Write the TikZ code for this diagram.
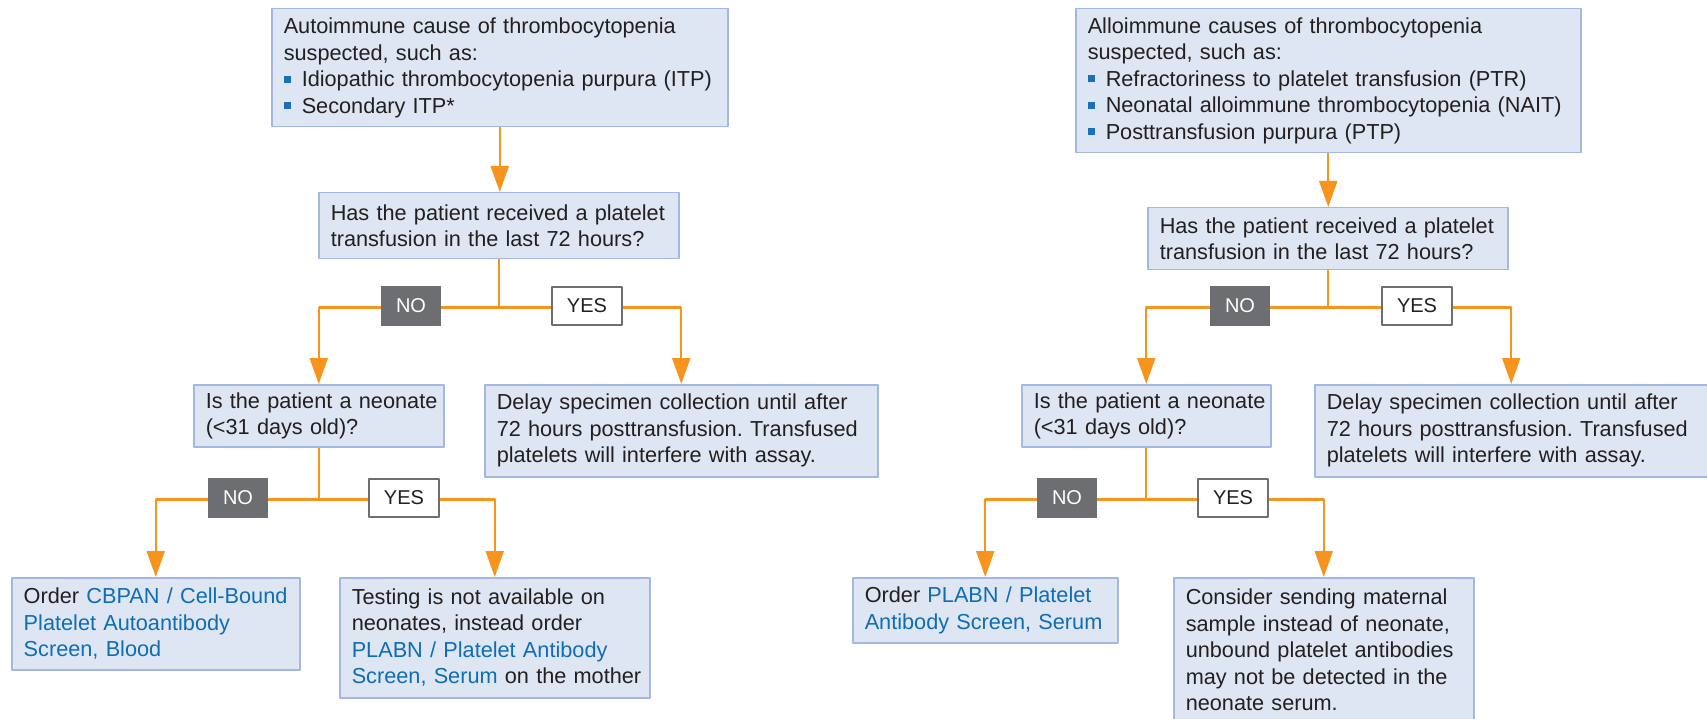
\documentclass[tikz,border=0pt]{standalone}
\usepackage{fontspec}
\setmainfont{Liberation Sans}
\usetikzlibrary{arrows.meta}
\definecolor{boxfill}{HTML}{DFE6F3}
\definecolor{boxline}{HTML}{A2B8E0}
\definecolor{flow}{HTML}{F7941D}
\definecolor{nogray}{HTML}{6D6E71}
\definecolor{linkblue}{HTML}{0F6DB5}
\definecolor{bulblue}{HTML}{1B6FB7}
\definecolor{ink}{HTML}{231F20}
\newcommand{\bul}{{\color{bulblue}\rule[4pt]{7pt}{7pt}}\hspace{11pt}}
\newcommand{\lnk}[1]{\textcolor{linkblue}{#1}}
\frenchspacing

\begin{document}
\begin{tikzpicture}[x=1pt,y=-1pt,line join=round,
  every node/.style={font=\fontsize{21.7}{26.5}\selectfont,text=ink},
  infobox/.style={draw=boxline,fill=boxfill,line width=1.5pt,anchor=north west,inner xsep=0pt,inner ysep=0pt,align=left,
    execute at begin node={\leftskip=12pt\hyphenpenalty=10000\exhyphenpenalty=10000}},
  wire/.style={draw=flow,line width=2.2pt},
  arr/.style={wire,-{Triangle[length=26pt,width=18pt]}},
  nolab/.style={fill=nogray,text=white,minimum width=60pt,minimum height=40pt,inner sep=0pt,font=\fontsize{20}{24}\selectfont},
  yeslab/.style={fill=white,draw=nogray,line width=2pt,minimum width=70pt,minimum height=38pt,inner sep=0pt,font=\fontsize{20}{24}\selectfont}]
\useasboundingbox (0,0) rectangle (1707,719);

% autoimmune side
\node[infobox,text width=456pt,minimum height=118pt] (autoA) at (271,8) {Autoimmune cause of thrombocytopenia\\suspected, such as:\\\bul Idiopathic thrombocytopenia purpura (ITP)\\\bul Secondary ITP*};
\node[infobox,text width=360pt,minimum height=66pt] (qA1) at (318,192) {Has the patient received a platelet\\transfusion in the last 72 hours?};
\node[infobox,text width=250pt,minimum height=62pt] (qA2) at (193,384) {Is the patient a neonate\\(<31 days old)?};
\node[infobox,text width=393pt,minimum height=92pt] (delayA) at (484,384) {Delay specimen collection until after\\72 hours posttransfusion. Transfused\\platelets will interfere with assay.};
\node[infobox,text width=288pt,minimum height=92pt] (orderA) at (11,577) {Order \lnk{CBPAN / Cell-Bound}\\\lnk{Platelet Autoantibody}\\\lnk{Screen, Blood}};
\node[infobox,text width=310pt,minimum height=120pt] (testA) at (339,577) {Testing is not available on\\neonates, instead order\\\lnk{PLABN / Platelet Antibody}\\\lnk{Screen, Serum} on the mother};

% alloimmune side
\node[infobox,text width=505pt,minimum height=144pt] (autoB) at (1075,8) {Alloimmune causes of thrombocytopenia\\suspected, such as:\\\bul Refractoriness to platelet transfusion (PTR)\\\bul Neonatal alloimmune thrombocytopenia (NAIT)\\\bul Posttransfusion purpura (PTP)};
\node[infobox,text width=360pt,minimum height=62pt] (qB1) at (1147,207) {Has the patient received a platelet\\transfusion in the last 72 hours?};
\node[infobox,text width=249pt,minimum height=62pt] (qB2) at (1021,384) {Is the patient a neonate\\(<31 days old)?};
\node[infobox,text width=393pt,minimum height=92pt] (delayB) at (1314,384) {Delay specimen collection until after\\72 hours posttransfusion. Transfused\\platelets will interfere with assay.};
\node[infobox,text width=265pt,minimum height=65pt] (orderB) at (852,577) {Order \lnk{PLABN / Platelet}\\\lnk{Antibody Screen, Serum}};
\node[infobox,text width=300pt,minimum height=144pt] (considerB) at (1173,577) {Consider sending maternal\\sample instead of neonate,\\unbound platelet antibodies\\may not be detected in the\\neonate serum.};

% branch points
\coordinate (jA1) at ([yshift=-48pt]qA1.south);
\coordinate (jA2) at ([yshift=-52pt]qA2.south);
\coordinate (jB1) at ([yshift=-37pt]qB1.south);
\coordinate (jB2) at ([yshift=-52pt]qB2.south);

\draw[arr] (autoA.south) -- (autoA.south |- qA1.north);
\draw[wire] (qA1.south) -- (jA1);
\draw[arr] (jA1) -| (qA2.north);
\draw[arr] (jA1) -| (delayA.north);
\draw[wire] (qA2.south) -- (jA2);
\draw[arr] (jA2) -| (orderA.north);
\draw[arr] (jA2) -| (testA.north);

\draw[arr] (autoB.south) -- (autoB.south |- qB1.north);
\draw[wire] (qB1.south) -- (jB1);
\draw[arr] (jB1) -| (qB2.north);
\draw[arr] (jB1) -| (delayB.north);
\draw[wire] (qB2.south) -- (jB2);
\draw[arr] (jB2) -| (orderB.north);
\draw[arr] (jB2) -| (considerB.north);

% answers
\node[nolab] (noA1) at (411,306) {NO};
\node[yeslab] (yesA1) at (587,306) {YES};
\node[nolab] (noA2) at (238,498) {NO};
\node[yeslab] (yesA2) at (404,498) {YES};
\node[nolab] (noB1) at (1240,306) {NO};
\node[yeslab] (yesB1) at (1417,306) {YES};
\node[nolab] (noB2) at (1067,498) {NO};
\node[yeslab] (yesB2) at (1233,498) {YES};
\end{tikzpicture}
\end{document}
